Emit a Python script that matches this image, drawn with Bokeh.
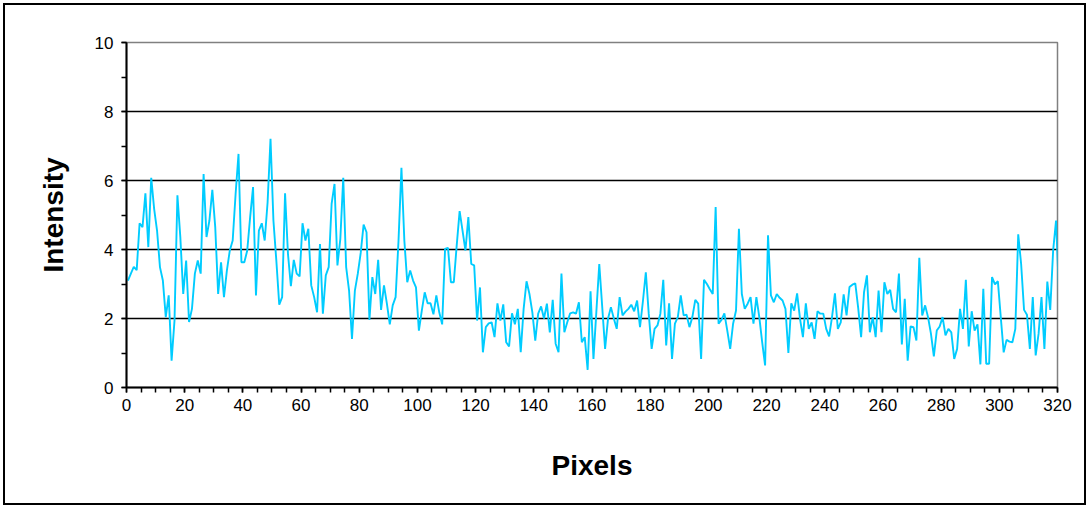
from bokeh.plotting import figure
from bokeh.models import SingleIntervalTicker, Range1d, ColumnDataSource
from bokeh.embed import file_html
from bokeh.resources import INLINE

intensity = [
    3.1, 3.3, 3.5, 3.4, 4.76, 4.65, 5.63, 4.07, 6.08, 5.18,
    4.55, 3.49, 3.1, 2.04, 2.67, 0.78, 1.94, 5.57, 4.36, 2.71,
    3.68, 1.9, 2.28, 3.3, 3.68, 3.3, 6.19, 4.36, 4.84, 5.73,
    4.65, 2.71, 3.63, 2.62, 3.39, 3.97, 4.26, 5.61, 6.77, 3.63,
    3.63, 3.97, 4.94, 5.81, 2.67, 4.55, 4.76, 4.26, 5.37, 7.21,
    4.84, 3.68, 2.4, 2.62, 5.63, 3.87, 2.94, 3.7, 3.3, 3.22,
    4.76, 4.26, 4.6, 2.96, 2.62, 2.18, 4.16, 2.14, 3.25, 3.49,
    5.32, 5.9, 3.54, 4.31, 6.08, 3.49, 2.81, 1.41, 2.81, 3.3,
    3.9, 4.72, 4.5, 1.96, 3.2, 2.71, 3.7, 2.25, 2.96, 2.43,
    1.83, 2.38, 2.62, 4.26, 6.37, 4.26, 3.05, 3.39, 3.1, 2.9,
    1.65, 2.23, 2.76, 2.44, 2.44, 2.12, 2.67, 2.18, 1.83, 4.02,
    4.05, 3.05, 3.05, 4.12, 5.11, 4.55, 3.97, 4.94, 3.58, 3.54,
    1.94, 2.9, 1.02, 1.75, 1.86, 1.89, 1.46, 2.44, 1.94, 2.41,
    1.31, 1.19, 2.15, 1.83, 2.28, 1.02, 2.28, 3.08, 2.71, 2.18,
    1.36, 2.14, 2.35, 2.0, 2.43, 1.6, 2.54, 1.27, 1.02, 3.3,
    1.6, 1.89, 2.15, 2.18, 2.14, 2.47, 1.31, 1.46, 0.51, 2.79,
    0.83, 2.2, 3.58, 2.35, 1.12, 1.99, 2.33, 2.0, 1.7, 2.62,
    2.09, 2.2, 2.28, 2.4, 2.21, 2.52, 1.75, 2.5, 3.34, 2.14,
    1.12, 1.7, 1.8, 2.14, 3.12, 1.22, 2.44, 0.83, 1.85, 2.04,
    2.67, 2.09, 2.11, 1.75, 2.04, 2.54, 2.43, 0.83, 3.12, 3.0,
    2.85, 2.71, 5.23, 1.85, 1.96, 2.15, 1.65, 1.12, 1.85, 2.23,
    4.6, 2.71, 2.28, 2.43, 2.62, 1.85, 2.62, 2.04, 1.31, 0.64,
    4.41, 2.67, 2.47, 2.71, 2.6, 2.52, 2.28, 1.0, 2.44, 2.23,
    2.73, 1.99, 1.46, 2.44, 1.7, 1.89, 1.41, 2.21, 2.14, 2.14,
    1.7, 1.48, 2.04, 2.73, 1.7, 1.89, 2.7, 2.09, 2.91, 2.98,
    3.02, 2.3, 1.46, 2.76, 3.25, 1.6, 2.04, 1.46, 2.81, 1.6,
    3.05, 2.71, 2.83, 2.28, 2.18, 3.3, 1.25, 2.57, 0.78, 1.77,
    1.75, 1.36, 3.76, 2.09, 2.38, 2.04, 1.56, 0.9, 1.65, 1.77,
    2.04, 1.51, 1.7, 1.6, 0.83, 1.12, 2.28, 1.7, 3.12, 1.19,
    2.21, 1.65, 1.83, 0.67, 2.86, 0.69, 0.69, 3.2, 2.99, 3.08,
    2.04, 1.02, 1.38, 1.33, 1.31, 1.7, 4.44, 3.58, 2.25, 2.11,
    1.12, 2.62, 0.93, 1.56, 2.62, 1.12, 3.07, 2.25, 3.97, 4.84,
    2.75,
]
pixels = [i + 0.5 for i in range(len(intensity))]

x_label = "Pixels"
y_label = "Intensity"

FONT = "Liberation Sans"

p = figure(width=1079, height=498, output_backend="svg", toolbar_location=None,
           x_range=Range1d(0, 320), y_range=Range1d(0, 10),
           min_border_left=121, min_border_right=27, min_border_top=37, min_border_bottom=116)
p.background_fill_color = "white"
p.border_fill_color = "white"
p.outline_line_color = "#808080"
p.outline_line_width = 1.5
p.styles = {"margin": "5px", "outline": "2px solid black"}

src = ColumnDataSource(dict(x=pixels, y=intensity))
p.line("x", "y", source=src, line_color="#00CCFF", line_width=1.9)

p.xaxis.ticker = SingleIntervalTicker(interval=20, num_minor_ticks=4)
p.yaxis.ticker = SingleIntervalTicker(interval=2, num_minor_ticks=2)
for ax in (p.xaxis, p.yaxis):
    ax.axis_line_color = "black"
    ax.axis_line_width = 2
    ax.major_tick_line_color = "black"
    ax.minor_tick_line_color = "black"
    ax.major_tick_line_width = 1.5
    ax.minor_tick_line_width = 1.5
    ax.major_tick_in = 0
    ax.minor_tick_in = 0
    ax.major_tick_out = 5
    ax.minor_tick_out = 5
    ax.major_label_text_font = FONT
    ax.major_label_text_font_size = "17px"
    ax.major_label_text_color = "black"
    ax.axis_label_text_font = FONT
    ax.axis_label_text_font_size = "28px"
    ax.axis_label_text_font_style = "bold"
    ax.axis_label_text_color = "black"

p.xaxis.axis_label = x_label
p.yaxis.axis_label = y_label
p.xaxis.major_label_standoff = 6
p.yaxis.major_label_standoff = 8
p.xaxis.axis_label_standoff = 36
p.yaxis.axis_label_standoff = 23

p.xgrid.grid_line_color = None
p.ygrid.grid_line_color = "black"
p.ygrid.grid_line_width = 1.5

open("out.html", "w").write(file_html(p, INLINE))
